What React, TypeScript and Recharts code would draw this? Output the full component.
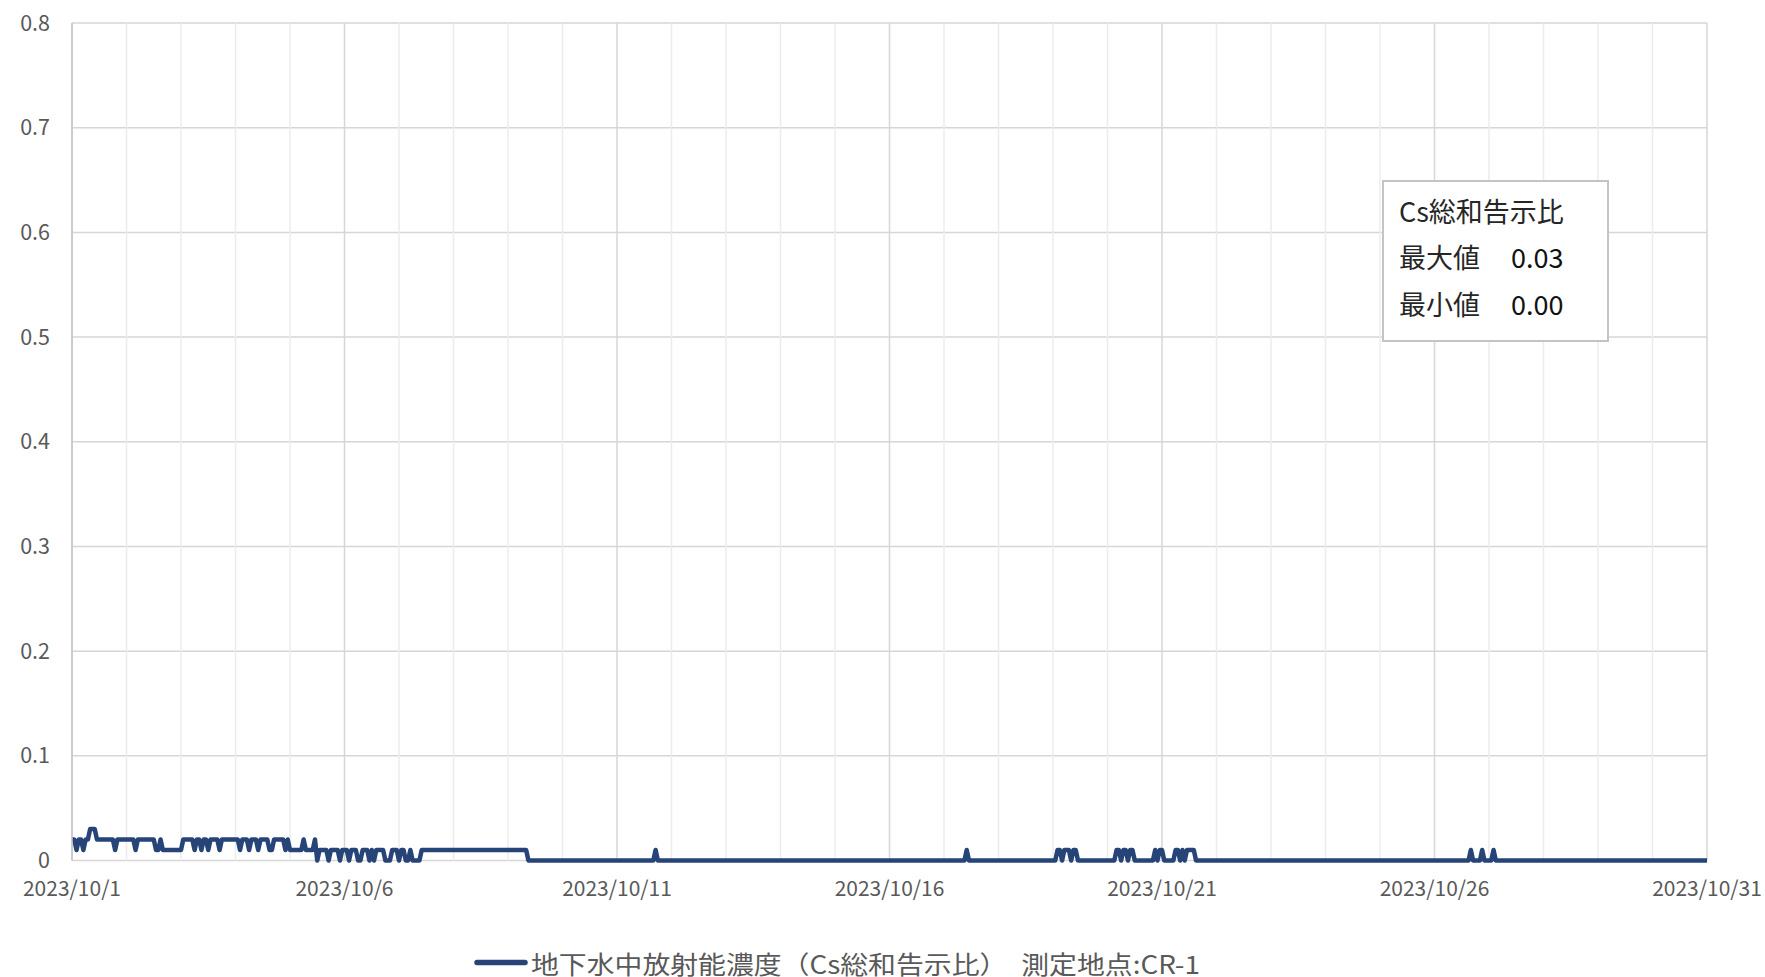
import { LineChart, Line, XAxis, YAxis, CartesianGrid, ReferenceLine, Legend } from 'recharts';

// hourly readings, one string per day (10/1 .. 10/30), each digit = value in 0.01 units
const hourlyByDay: string[] = [
  '221221223332222222212222',
  '222212222222211211111111',
  '122222122122122221222222',
  '221222122212222112222212',
  '111111211112011110111101',
  '110111001110101111000111',
  '011001000011111111111111',
  '111111111111111111111111',
  '111111111000000000000000',
  '000000000000000000000000',
  '000000000000000001000000',
  '000000000000000000000000',
  '000000000000000000000000',
  '000000000000000000000000',
  '000000000000000000000000',
  '000000000000000000000000',
  '000000000010000000000000',
  '000000000000000000000000',
  '001101110110000000000000',
  '000011011011000000000101',
  '100000110101111000000000',
  '000000000000000000000000',
  '000000000000000000000000',
  '000000000000000000000000',
  '000000000000000000000000',
  '000000000000000010000100',
  '001000000000000000000000',
  '000000000000000000000000',
  '000000000000000000000000',
  '000000000000000000000000',
];
const lastReading = 0; // 2023/10/31 0:00

const xTickHours = [0, 120, 240, 360, 480, 600, 720];
const xTickLabels = ['2023/10/1', '2023/10/6', '2023/10/11', '2023/10/16', '2023/10/21', '2023/10/26', '2023/10/31'];
const minorDayHours = [24, 48, 72, 96, 144, 168, 192, 216, 264, 288, 312, 336, 384, 408, 432, 456, 504, 528, 552, 576, 624, 648, 672, 696];
const yTicks = [0, 0.1, 0.2, 0.3, 0.4, 0.5, 0.6, 0.7, 0.8];

const seriesName = '地下水中放射能濃度（Cs総和告示比）　測定地点:CR-1';
const boxTitle = 'Cs総和告示比';
const boxRows = [
  { label: '最大値', value: '0.03' },
  { label: '最小値', value: '0.00' },
];

const data = [
  ...hourlyByDay.flatMap((day, d) => day.split('').map((c, i) => ({ h: d * 24 + i, v: Number(c) / 100 }))),
  { h: hourlyByDay.length * 24, v: lastReading },
];

const FONT = '"Noto Sans CJK JP", "Noto Sans", sans-serif';
const LINE_COLOR = '#264478';

const LegendContent = ({ payload }: { payload?: Array<{ value: string; color: string }> }) => {
  const item = payload && payload[0];
  return (
    <svg width={1765} height={56} style={{ display: 'block', overflow: 'visible' }}>
      <line x1={477} x2={525} y1={41.5} y2={41.5} stroke={item?.color || LINE_COLOR} strokeWidth={5.5} strokeLinecap="round" />
      <text x={531} y={41.5} dominantBaseline="central" fontSize={25} fontFamily={FONT} fill="#595959"
        textLength={669} lengthAdjust="spacingAndGlyphs">
        {item?.value || seriesName}
      </text>
    </svg>
  );
};

export default function App() {
  return (
    <div style={{ position: 'absolute', left: 0, top: 0, width: 1765, height: 977, background: '#fff' }}>
      <LineChart width={1765} height={977} data={data} margin={{ top: 23, right: 58, bottom: 0, left: 0 }}>
        {minorDayHours.map((h) => (
          <ReferenceLine key={h} x={h} stroke="#ececec" strokeWidth={1.5} />
        ))}
        <CartesianGrid stroke="#d6d6d6" strokeWidth={1.5} />
        <XAxis
          dataKey="h"
          type="number"
          domain={[0, 720]}
          ticks={xTickHours}
          interval={0}
          tickFormatter={(v: number) => xTickLabels[xTickHours.indexOf(v)]}
          axisLine={false}
          tickLine={false}
          tickSize={0}
          tickMargin={21}
          height={60.5}
          tick={{ fill: '#595959', fontSize: 21, fontFamily: FONT }}
        />
        <YAxis
          domain={[0, 0.8]}
          ticks={yTicks}
          interval={0}
          tickFormatter={(v: number) => (v === 0 ? '0' : v.toFixed(1))}
          axisLine={{ stroke: '#c4c4c4', strokeWidth: 1.5 }}
          tickLine={false}
          tickSize={0}
          tickMargin={22}
          width={72}
          tick={{ fill: '#595959', fontSize: 21.5, fontFamily: FONT }}
        />
        <Legend
          verticalAlign="bottom"
          content={<LegendContent />}
          wrapperStyle={{ left: 0, bottom: 0, width: 1765, height: 56 }}
        />
        <Line
          type="linear"
          dataKey="v"
          name={seriesName}
          stroke={LINE_COLOR}
          strokeWidth={4.5}
          strokeLinejoin="round"
          dot={false}
          activeDot={false}
          isAnimationActive={false}
        />
      </LineChart>
      <div style={{
        position: 'absolute', left: 1382, top: 180, width: 227, height: 162, boxSizing: 'border-box',
        border: '2px solid #c4c4c4', background: '#fff', fontFamily: FONT, fontSize: 27, color: '#262626',
      }}>
        <div style={{ position: 'absolute', left: 15, top: 29 - 19, lineHeight: '38px', whiteSpace: 'nowrap' }}>{boxTitle}</div>
        {boxRows.map((r, i) => (
          <div key={r.label} style={{ position: 'absolute', left: 15, top: 75 + i * 47 - 19, lineHeight: '38px', whiteSpace: 'nowrap' }}>
            <span>{r.label}</span>
            <span style={{ position: 'absolute', left: 112, color: '#111' }}>{r.value}</span>
          </div>
        ))}
      </div>
    </div>
  );
}
